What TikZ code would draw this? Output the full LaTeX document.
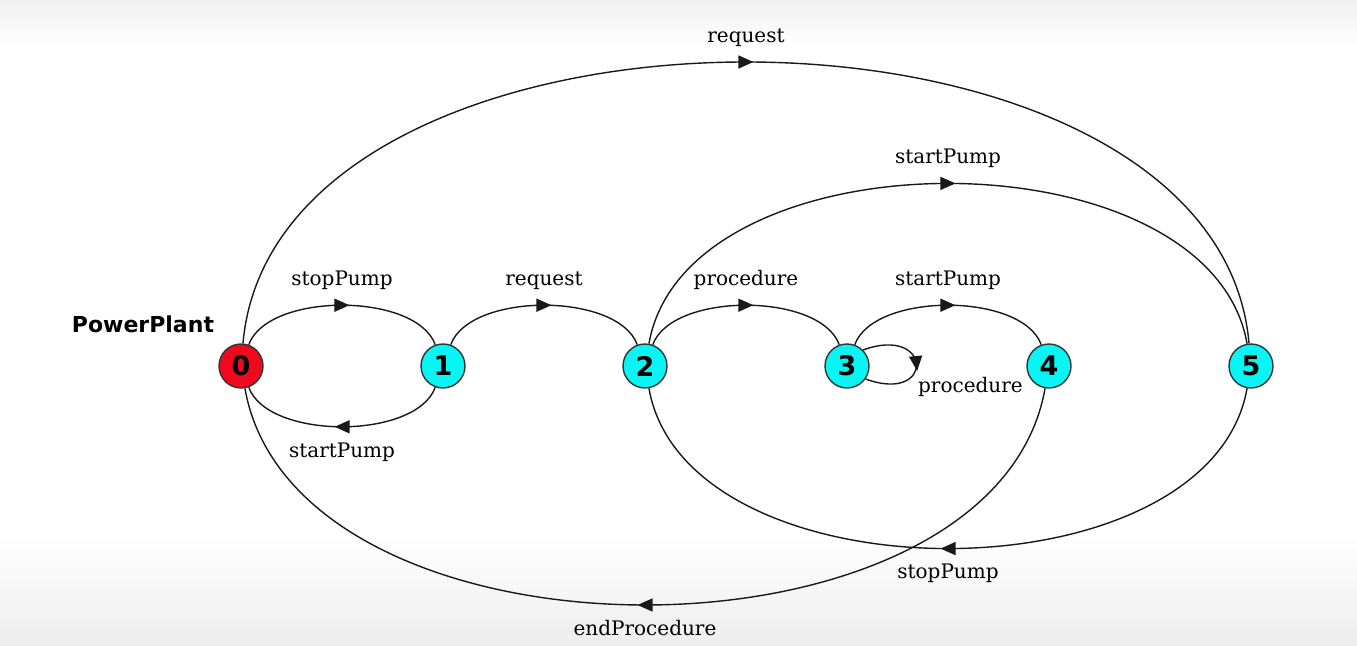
\documentclass[tikz,border=0pt]{standalone}
\usepackage{fontspec}
\setmainfont{DejaVu Serif}
\newfontfamily\statefont{DejaVu Sans}
\usepackage{tikz}
\usetikzlibrary{positioning}
\usetikzlibrary{arrows.meta}
\usetikzlibrary{decorations.markings}
\definecolor{stred}{RGB}{240,8,28}
\definecolor{stcyan}{RGB}{8,245,245}
\tikzset{
st/.style={
  circle,
  inner sep=0pt,
  minimum size=22pt,
  line width=0.7pt,
  draw=black!80,
  fill=stcyan,
  font=\statefont\bfseries\fontsize{13.5}{14}\selectfont
  },
lbl/.style={
  font=\fontsize{10}{12}\selectfont,
  inner sep=7.5pt
  },
mid/.style={
  postaction={decorate,decoration={markings,
    mark=at position 0.5 with {\pgftransformxshift{3.7pt}\arrow{Triangle[length=7.5pt,width=6.5pt]}}}}
  }
}
\begin{document}
\begin{tikzpicture}[x=0.5pt,y=0.5pt,auto,node distance=101pt,line width=0.7pt,
  every edge/.append style={mid,draw=black!90}]
    \useasboundingbox (0,0) rectangle (1357,645);
    % background
    \shade[top color=black!6,bottom color=white] (0,600) rectangle (1357,645);
    \shade[top color=white,bottom color=black!7] (0,0) rectangle (1357,110);
    \node[font=\statefont\bfseries\fontsize{11}{13}\selectfont] (title) at (143,321) {PowerPlant};
    \node[st,fill=stred] (n0) at (241,279) {0};
    \node[st] (n1) [right of=n0] {1};
    \node[st] (n2) [right of=n1] {2};
    \node[st] (n3) [right of=n2] {3};
    \node[st] (n4) [right of=n3] {4};
    \node[st] (n5) [right of=n4] {5};
    \path
    (n0) edge [out=70,in=110,looseness=0.77] node[lbl] {stopPump} (n1)
    (n1) edge [out=-110,in=-70,looseness=0.77] node[lbl] {startPump} (n0)
    (n1) edge [out=70,in=110,looseness=0.77] node[lbl] {request} (n2)
    (n2) edge [out=70,in=110,looseness=0.77] node[lbl] {procedure} (n3)
    (n3) edge [out=70,in=110,looseness=0.77] node[lbl] {startPump} (n4)
    (n3.45) edge [out=20,in=-20,looseness=6.5] node[lbl,auto=false,anchor=north west,inner sep=3pt,xshift=-2.5pt,yshift=-3pt] {procedure} (n3.-35) % self loop
    (n2) edge [out=80,in=100,looseness=0.93] node[lbl] {startPump} (n5)
    (n5) edge [out=-100,in=-80,looseness=0.93] node[lbl] {stopPump} (n2)
    (n0) edge [out=85,in=95,looseness=0.96] node[lbl] {request} (n5)
    (n4) edge [out=-100,in=-80,looseness=0.94] node[lbl] {endProcedure} (n0)
    ;
\end{tikzpicture}
\end{document}
